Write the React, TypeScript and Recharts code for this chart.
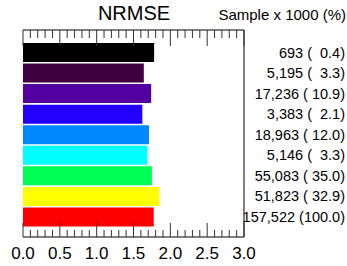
import React from 'react';
import { BarChart, Bar, XAxis, YAxis, Cell, LabelList } from 'recharts';

// one row per bin, top to bottom
const bins = ['b1', 'b2', 'b3', 'b4', 'b5', 'b6', 'b7', 'b8', 'all'];
const nrmse = [1.78, 1.64, 1.74, 1.62, 1.71, 1.69, 1.75, 1.85, 1.775];
const samples = [693, 5195, 17236, 3383, 18963, 5146, 55083, 51823, 157522];
const percents = [0.4, 3.3, 10.9, 2.1, 12.0, 3.3, 35.0, 32.9, 100.0];
const colors = ['#000000', '#400040', '#5200a0', '#2200ff', '#0088ff', '#00ffff', '#00ff55', '#ffff00', '#ff0000'];

const xTicks = [
  0, 0.1, 0.2, 0.3, 0.4, 0.5, 0.6, 0.7, 0.8, 0.9,
  1, 1.1, 1.2, 1.3, 1.4, 1.5, 1.6, 1.7, 1.8, 1.9,
  2, 2.1, 2.2, 2.3, 2.4, 2.5, 2.6, 2.7, 2.8, 2.9, 3,
];

const title = 'NRMSE';
const subtitle = 'Sample x 1000 (%)';

const data = bins.map((name, i) => ({
  name,
  nrmse: nrmse[i],
  label: `${samples[i].toLocaleString('en-US')} (${percents[i].toFixed(1).padStart(5, ' ')})`,
}));

const isMajor = (v: number) => Math.abs(v * 2 - Math.round(v * 2)) < 1e-6;

const BottomTick = (props: any) => {
  const x = Number(props.x);
  const y = Number(props.y);
  const v = Number(props.payload.value);
  const len = isMajor(v) ? 14 : 7;
  return (
    <g>
      <rect x={x - 0.5} y={y - len} width={1} height={len} fill="#333" />
      {isMajor(v) && (
        <text x={x} y={y + 22} textAnchor="middle" fontSize={17} fill="#000">
          {v.toFixed(1)}
        </text>
      )}
    </g>
  );
};

const TopTick = (props: any) => {
  const x = Number(props.x);
  const y = Number(props.y);
  const len = isMajor(Number(props.payload.value)) ? 16 : 8;
  return <rect x={x - 0.5} y={y} width={1} height={len} fill="#333" />;
};

// titles live in the top axis box
const TitleLabel = (props: any) => {
  const vb = props.viewBox || {};
  const vx = Number.isFinite(vb.x) ? vb.x : 23;
  const vy = Number.isFinite(vb.y) ? vb.y : 0;
  return (
    <g>
      <text x={vx + 111} y={vy + 20} textAnchor="middle" fontSize={20} fill="#000">
        {title}
      </text>
      <text x={vx + 323} y={vy + 20} textAnchor="end" fontSize={15} fill="#000">
        {subtitle}
      </text>
    </g>
  );
};

// sample counts sit in the right margin, one per bar row
const RowLabel = (props: any) => (
  <text
    x={Number(props.x) + 322}
    y={Number(props.y) + Number(props.height) / 2}
    textAnchor="end"
    dominantBaseline="central"
    fontSize={14.5}
    fill="#000"
    style={{ whiteSpace: 'pre' }}
  >
    {String(props.value)}
  </text>
);

export default function App() {
  return (
    <div style={{ position: 'absolute', left: 0, top: 0, width: 347, height: 266, fontFamily: '"Liberation Sans", Arial, sans-serif' }}>
      <BarChart width={347} height={266} data={data} layout="vertical" margin={{ top: 0, right: 0, bottom: 0, left: 23 }}>
        <XAxis
          xAxisId="bottom"
          type="number"
          orientation="bottom"
          domain={[0, 3]}
          ticks={xTicks}
          interval={0}
          height={29}
          tickSize={0}
          tickMargin={0}
          tickLine={false}
          axisLine={{ stroke: '#000' }}
          tick={(p: any) => <BottomTick {...p} />}
        />
        <XAxis
          xAxisId="top"
          type="number"
          orientation="top"
          domain={[0, 3]}
          allowDataOverflow
          ticks={xTicks}
          interval={0}
          height={30}
          tickSize={0}
          tickMargin={0}
          tickLine={false}
          axisLine={{ stroke: '#000' }}
          tick={(p: any) => <TopTick {...p} />}
          label={{ content: (p: any) => <TitleLabel {...p} /> }}
        />
        <YAxis yAxisId="left" type="category" dataKey="name" width={0} tick={false} axisLine={{ stroke: '#000' }} padding={{ top: 12, bottom: 10 }} />
        <YAxis yAxisId="right" type="category" dataKey="name" orientation="right" width={103} tick={false} axisLine={{ stroke: '#000' }} padding={{ top: 12, bottom: 10 }} />
        <Bar xAxisId="bottom" yAxisId="left" dataKey="nrmse" barSize={19} isAnimationActive={false}>
          {data.map((d, i) => (
            <Cell key={d.name} fill={colors[i]} />
          ))}
          <LabelList dataKey="label" content={(p: any) => <RowLabel {...p} />} />
        </Bar>
      </BarChart>
    </div>
  );
}
